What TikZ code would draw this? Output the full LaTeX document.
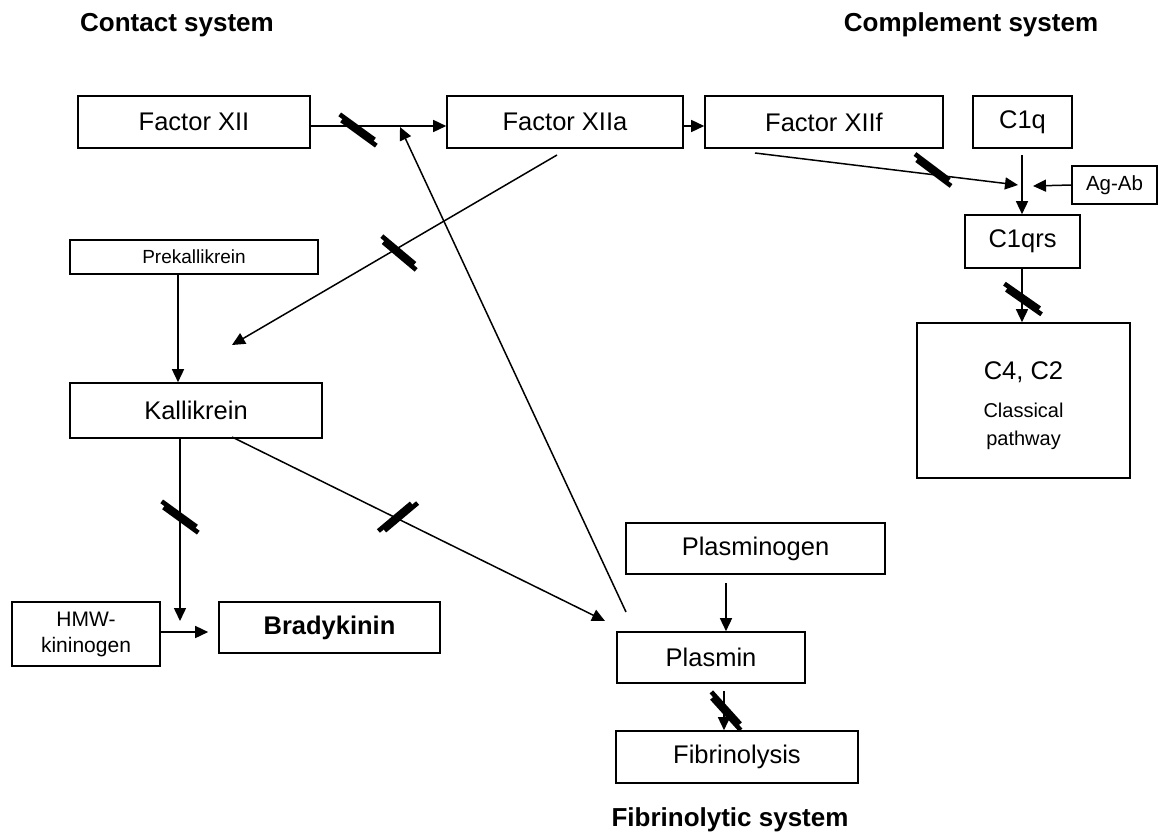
\documentclass[tikz,border=0pt]{standalone}
\usepackage{fontspec}
\setmainfont{Liberation Sans}
\usetikzlibrary{arrows.meta}
\newcommand{\blk}[3]{\begin{scope}[shift={(#1,#2)},rotate=#3]
 \fill (-24,-4.2) rectangle (19,0.4);
 \fill (-19,-0.4) rectangle (24,4.2);
\end{scope}}
\tikzset{
 box/.style={draw, line width=1.6pt, inner sep=0pt, align=center, font=\fontsize{25.5}{28}\selectfont},
 sbox/.style={box, font=\fontsize{20.5}{25}\selectfont},
 title/.style={font=\fontsize{26}{29}\selectfont\bfseries},
 conn/.style={line width=1.5pt, -{Triangle[length=13pt,width=12pt]}},
 plain/.style={line width=1.5pt}
}
\begin{document}
\begin{tikzpicture}[x=1pt,y=-1pt]
\useasboundingbox (0,0) rectangle (1158,835);
% titles
\node[title] (tc) at (177,25) {Contact system};
\node[title] (tm) at (971,25) {Complement system};
\node[title] (tf) at (730,820) {Fibrinolytic system};
% boxes
\node[box, minimum width=232pt, minimum height=52pt] (xii) at (194,122) {Factor XII};
\node[box, minimum width=236pt, minimum height=52pt] (xiia) at (565,122) {Factor XIIa};
\node[box, minimum width=238pt, minimum height=52pt] (xiif) at (824,122) {Factor XIIf};
\node[box, minimum width=99pt, minimum height=52pt] (c1q) at (1022.5,122) {C1q};
\node[sbox, minimum width=85pt, minimum height=38pt] (agab) at (1114.5,185) {Ag-Ab};
\node[box, minimum width=115pt, minimum height=53pt] (c1qrs) at (1022.5,241.5) {C1qrs};
\node[box, minimum width=213pt, minimum height=155pt] (c4) at (1023.5,400.5) {};
\node (c4t) at (1023.5,372) {\fontsize{25.5}{28}\selectfont C4, C2};
\node[align=center, font=\fontsize{20}{28}\selectfont] (c4s) at (1023.5,426) {Classical\\pathway};
\node[sbox, font=\fontsize{19}{22}\selectfont, minimum width=248pt, minimum height=34pt] (prek) at (194,257) {Prekallikrein};
\node[box, minimum width=252pt, minimum height=55pt] (kall) at (196,410.5) {Kallikrein};
\node[sbox, font=\fontsize{21}{26}\selectfont, minimum width=148pt, minimum height=64pt] (hmw) at (86,634) {HMW-\\kininogen};
\node[box, minimum width=221pt, minimum height=51pt, font=\fontsize{25.5}{28}\selectfont\bfseries] (brady) at (329.5,627.5) {Bradykinin};
\node[box, minimum width=259pt, minimum height=51pt] (plg) at (755.5,548.5) {Plasminogen};
\node[box, minimum width=188pt, minimum height=51pt] (plasmin) at (711,657.5) {Plasmin};
\node[box, minimum width=242pt, minimum height=52pt] (fib) at (737,757) {Fibrinolysis};
% free-end coordinates
\coordinate (j1) at (400,127);
\coordinate (p1) at (626,612);
\coordinate (a1) at (557,155);
\coordinate (a2) at (232,345);
\coordinate (k1) at (232,437);
\coordinate (k2) at (605,621);
\coordinate (kv1) at (180,438);
\coordinate (kv2) at (180,621);
\coordinate (f1) at (755,153);
\coordinate (f2) at (1018,185);
\coordinate (q1) at (1022,155);
\coordinate (ag) at (1033,186);
% connectors
\draw[conn] (xii.east |- 0,126) -- (xiia.west |- 0,126);
\draw[conn] (xiia.east |- 0,126) -- (xiif.west |- 0,126);
\draw[conn] (p1) -- (j1);
\draw[conn] (a1) -- (a2);
\draw[conn] (prek.south -| 178,0) -- (kall.north -| 178,0);
\draw[conn] (kv1) -- (kv2);
\draw[conn, shorten >=10pt] (hmw.east |- 0,632) -- (brady.west |- 0,632);
\draw[conn] (k1) -- (k2);
\draw[conn, shorten <=8pt] (plg.south -| 726,0) -- (plasmin.north -| 726,0);
\draw[conn, shorten <=7pt] (plasmin.south -| 724,0) -- (fib.north -| 724,0);
\draw[conn] (f1) -- (f2);
\draw[conn] (q1) -- (c1qrs.north -| 1022,0);
\draw[conn] (agab.west) -- (ag);
\draw[conn] (c1qrs.south -| 1022,0) -- (c4.north -| 1022,0);
% blockers
\blk{358}{130}{-36}
\blk{399}{253}{-40}
\blk{180}{517}{-36}
\blk{398}{517}{40}
\blk{933}{170}{-37}
\blk{1023}{299}{-35}
\blk{726}{711}{-48}
\end{tikzpicture}
\end{document}
